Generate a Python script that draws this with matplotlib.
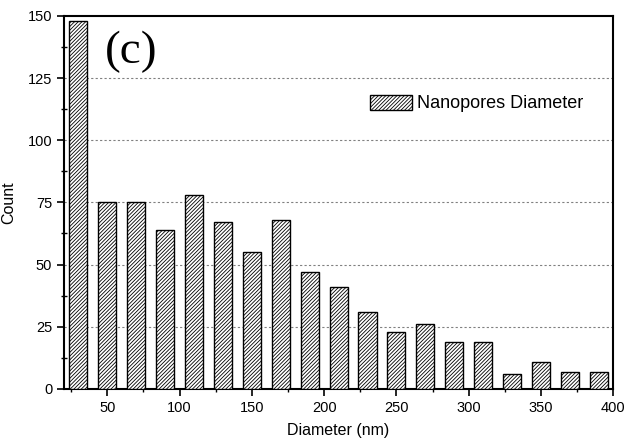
import matplotlib
matplotlib.use("Agg")
import matplotlib.pyplot as plt
from matplotlib.ticker import MultipleLocator

centers = [30, 50, 70, 90, 110, 130, 150, 170, 190, 210, 230, 250, 270, 290, 310, 330, 350, 370, 390]
counts = [148, 75, 75, 64, 78, 67, 55, 68, 47, 41, 31, 23, 26, 19, 19, 6, 11, 7, 7]
series_label = "Nanopores Diameter"
panel_label = "(c)"

plt.rcParams['font.family'] = ['Liberation Sans', 'DejaVu Sans']
plt.rcParams['hatch.linewidth'] = 0.6
plt.rcParams['hatch.color'] = '#222222'

fig = plt.figure(figsize=(6.27, 4.40), dpi=100)
ax = fig.add_axes([0.102, 0.116, 0.876, 0.848])

ax.bar(centers, counts, width=12.5, color='white', edgecolor='black',
       hatch='/' * 9, linewidth=1.0, label=series_label, zorder=3)

ax.set_xlim(20, 400)
ax.set_ylim(0, 150)
ax.xaxis.set_major_locator(MultipleLocator(50))
ax.xaxis.set_minor_locator(MultipleLocator(25))
ax.yaxis.set_major_locator(MultipleLocator(25))
ax.yaxis.set_minor_locator(MultipleLocator(12.5))

for y in [25, 50, 75, 100, 125]:
    ax.axhline(y, color='gray', linestyle=(0, (2, 2)), linewidth=0.8, zorder=1)

ax.tick_params(which='major', direction='out', length=5, width=1.2, labelsize=10.5)
ax.tick_params(which='minor', direction='inout', length=5, width=1.0)
ax.tick_params(top=False, right=False)
for s in ax.spines.values():
    s.set_linewidth(1.5)

ax.set_xlabel("Diameter (nm)", fontsize=11.5, labelpad=6)
ax.set_ylabel("Count", fontsize=11.5, labelpad=8)

ax.text(0.122, 0.903, panel_label, transform=ax.transAxes, fontsize=34,
        family=['Liberation Serif', 'DejaVu Serif'], ha='center', va='center')

leg = ax.legend(loc='center', bbox_to_anchor=(0.752, 0.765), frameon=False,
                fontsize=13, handlelength=2.3, handleheight=0.9, handletextpad=0.3)

fig.savefig("out.png", dpi=100)
